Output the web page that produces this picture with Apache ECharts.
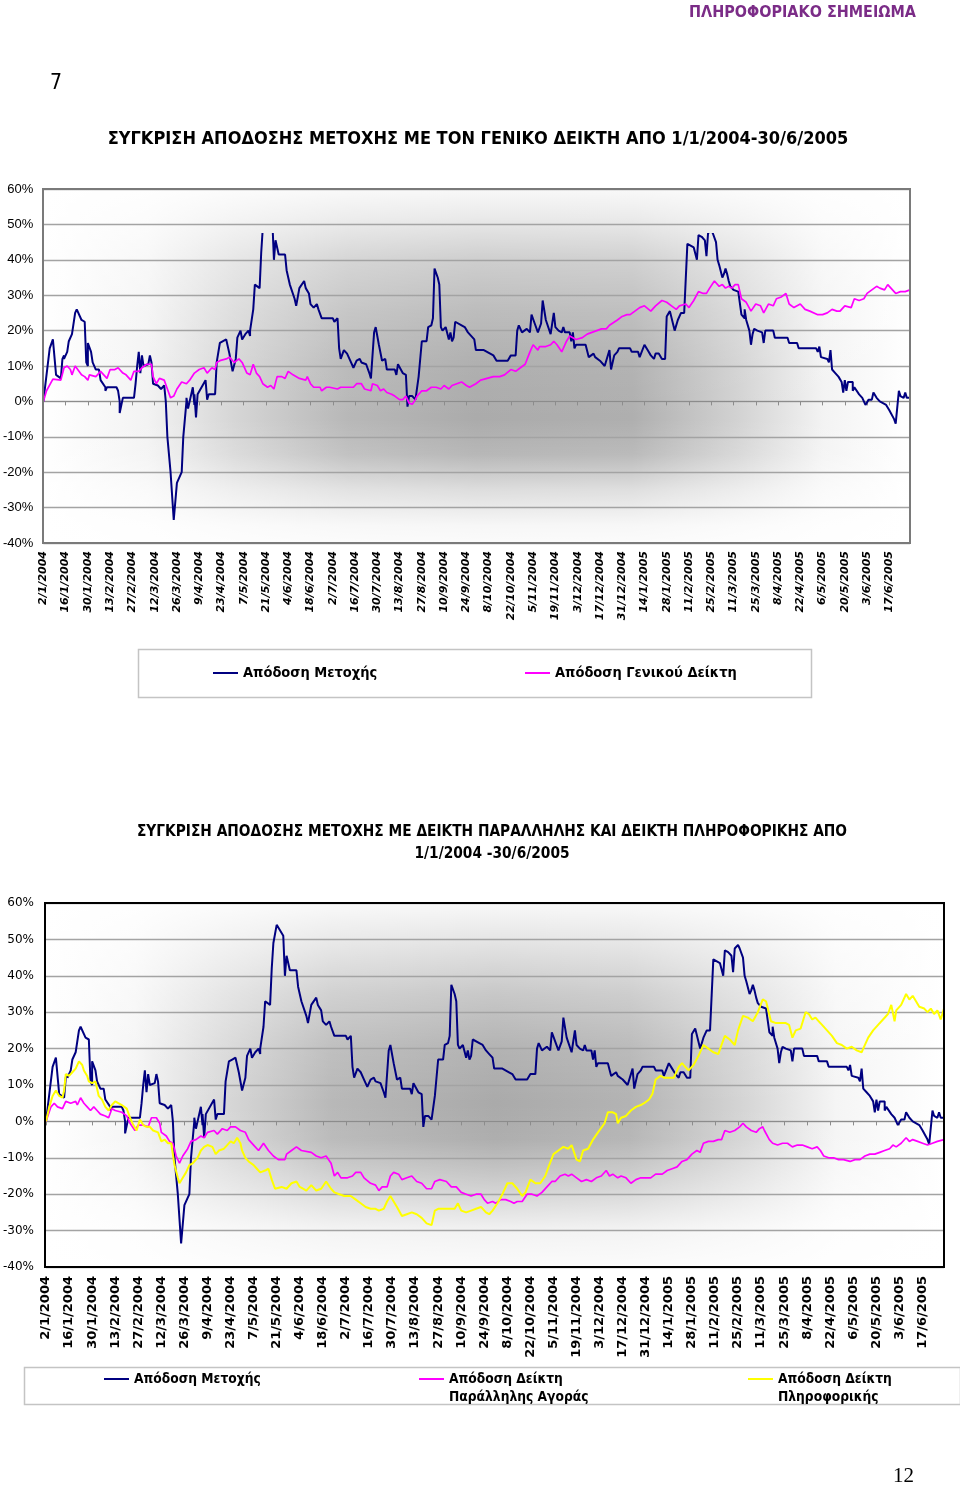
<!DOCTYPE html>
<html>
<head>
<meta charset="utf-8">
<script src="https://cdn.jsdelivr.net/npm/echarts@6/dist/echarts.min.js"></script>
<style>
html,body{margin:0;padding:0;background:#fff;}
#c{width:960px;height:1487px;}
</style>
</head>
<body>
<div id="c"></div>
<script>
// Day offsets are counted in calendar days from 2/1/2004; values are % returns.
const stockReturn = [[0,0],[4,15],[6,17.5],[8,7.5],[9,7],[11,6.5],[12,12],[13,13],[13,12],[15,14],[16,17],[18,19],[20,25],[21,26],[22,25.5],[24,23],[26,22.5],[27,11],[28,10],[28,16.5],[30,14],[31,11],[33,9],[35,9],[36,6],[39,4],[39,3],[40,4],[46,4],[47,3],[48,0],[48,-3.3],[50,1],[57,1],[58,5],[59,10],[60,14],[61,8],[62,13],[63,10],[66,10.5],[67,13],[68,11],[69,5],[72,4.5],[74,3.5],[76,4.5],[77,0],[78,-10],[80,-20],[82,-33.5],[84,-23],[87,-20],[88,-10],[90,0],[90,1],[91,-2],[92,0],[94,4],[95,-1],[95,2],[96,-4.5],[97,2],[102,6],[103,0.5],[104,2],[108,2],[109,11],[111,16.5],[113,17],[115,17.5],[117,13.5],[119,8.5],[121,12],[122,18],[124,20],[125,17.5],[127,19],[129,20],[130,18.5],[130,20],[132,26],[133,33],[136,32],[137,42],[138,49],[140,54],[144,51],[145,40],[146,45.5],[147,45.5],[148,41.5],[152,41.5],[153,37],[155,33],[158,29],[159,27],[161,32],[164,34],[165,32],[167,30.5],[168,27.5],[170,26.5],[172,27.5],[173,26],[175,23.5],[182,23.5],[183,22.5],[185,23.5],[186,15],[187,12],[189,14.5],[191,13.5],[193,11.5],[195,9.5],[197,11.5],[199,12],[200,11],[203,10.5],[205,8],[206,6.5],[208,19.5],[209,21],[211,16],[213,11.5],[214,11],[215,12],[216,9],[221,9],[222,7.5],[223,10.5],[226,8],[228,7.5],[229,-1.5],[230,1.5],[232,1.5],[234,0.5],[236,7],[238,17],[241,17],[242,21],[244,21.5],[245,23.5],[246,37.5],[248,35],[249,33],[250,21],[251,20],[253,21],[255,17.5],[256,19.5],[257,17],[258,18],[259,22.5],[263,21.5],[265,21],[267,19.5],[269,18.5],[271,17.5],[272,14.5],[277,14.5],[281,13.5],[283,13],[285,11.5],[292,11.5],[294,13],[297,13],[298,20],[299,21.5],[301,19.5],[304,20.5],[306,19.5],[307,24.5],[309,22],[311,19.5],[313,22],[314,28.5],[316,23],[319,19],[321,25],[322,21],[324,20],[326,19.5],[327,21],[328,19.5],[331,19.5],[332,17],[333,19.5],[334,15],[335,16],[341,16],[343,12.5],[346,13.5],[347,12.5],[350,11.5],[353,10],[354,10],[356,14.5],[357,9],[359,13],[361,14],[362,15],[369,15],[370,14],[374,14],[375,12.5],[378,16],[380,14.5],[382,13],[384,12],[385,13.5],[387,13.5],[389,12],[391,12],[392,24],[394,25.5],[395,25.5],[397,20],[399,23],[401,25],[403,25],[404,24.5],[405,44.5],[409,43.5],[410,44],[411,40],[412,47],[414,46.5],[416,45.5],[417,41],[418,47.5],[420,48.5],[421,47.5],[423,45],[424,40],[425,38.5],[427,35],[428,36],[429,37.5],[430,36],[431,34],[432,32.5],[434,31.5],[437,31],[438,30.5],[439,24.5],[440,24],[441,23.5],[441,26],[442,23],[444,20],[445,16],[446,19],[447,20.5],[449,20],[452,19.5],[453,16.5],[454,20],[459,20],[460,18],[468,18],[469,16.5],[474,16.5],[475,15],[486,15],[487,14],[488,15.5],[489,12.5],[493,12],[494,11],[495,14.5],[496,9],[498,8],[500,7],[502,5.5],[503,2.5],[504,6],[505,6],[505,3],[506,5.5],[509,5.5],[509,3],[510,4],[513,2],[515,1],[516,0.5],[517,-1],[519,0.5],[521,0.5],[522,2.5],[524,1],[526,0],[530,-1],[532,-2.5],[535,-5],[536,-6.3],[538,3],[539,1.5],[541,1],[542,2.5],[543,1],[545,1]];

const generalIndexReturn = [[0,0],[2,3],[6,6.3],[11,6],[13,9.5],[15,10],[17,9],[18,7.5],[20,10],[21,9.5],[24,7.5],[26,7],[28,6],[29,7.5],[33,7],[34,6.5],[36,8.5],[38,7.5],[40,6.5],[42,9],[45,9],[47,9.5],[50,8],[52,7.5],[55,6],[57,8.5],[60,8.5],[61,8],[62,9.5],[65,10.5],[68,10.5],[69,7],[71,5],[73,6.5],[76,6],[78,3.5],[80,1],[82,1.5],[84,3.5],[87,5.5],[90,5],[92,6],[95,8],[98,9],[101,9.5],[103,8],[106,9.5],[108,9],[109,11],[111,11.5],[115,12],[117,12.5],[120,11],[123,12],[125,11],[128,8],[130,7.5],[132,10.5],[134,8],[136,7],[138,5],[141,4],[143,4.5],[145,3.5],[147,7],[150,7],[152,6.5],[154,8.5],[157,7.5],[161,6.5],[165,6],[166,7],[168,5],[170,4],[174,4],[175,3],[178,4],[180,4],[185,3.5],[187,4],[195,4],[197,5],[200,5],[202,3.5],[206,3],[207,5],[210,4.5],[212,3],[214,3.5],[216,2.5],[219,2],[221,1.5],[224,0.5],[226,0.5],[228,1.5],[230,-0.5],[232,-0.8],[234,0.5],[235,1.5],[238,3],[241,3],[244,4],[247,4],[250,3.5],[252,4.5],[255,3.5],[257,4.5],[260,5],[263,5.5],[266,4.5],[268,4],[272,5],[275,6],[279,6.5],[283,7],[287,7],[290,7.5],[294,9],[297,8.5],[300,9.5],[303,10.5],[306,14],[308,16],[311,14.5],[312,15.5],[316,15.5],[319,16],[321,17],[323,16],[326,14],[329,17],[331,18.5],[335,17.5],[339,18],[342,19],[345,19.5],[348,20],[351,20.5],[354,20.5],[356,21.5],[361,23],[364,24],[367,24.5],[369,24.5],[372,25.5],[375,26.5],[378,27],[382,25.5],[385,27],[389,28.5],[392,28],[395,27],[398,26],[400,27],[404,27.5],[406,26.5],[409,28.5],[412,31],[415,30.5],[417,30.5],[419,32],[422,34],[425,32.5],[427,33],[429,32],[431,32.5],[433,32],[435,33],[437,33],[439,29],[442,28],[445,25.5],[448,27.5],[451,27],[453,25],[456,27.5],[459,27],[461,29],[464,29.5],[467,30.5],[469,27.5],[472,26.5],[476,27.5],[479,26],[482,25.5],[487,24.5],[490,24.5],[493,25],[496,26],[499,25.5],[501,25.5],[504,27],[508,26.5],[510,29],[513,28.5],[516,29],[518,30.5],[521,31.5],[524,32.5],[526,32],[529,31.5],[531,33],[534,31.5],[536,30.5],[539,31],[542,31],[545,31.5]];

const parallelIndexReturn = [[0,0],[3,4],[5,5],[7,4],[10,3.5],[12,5.5],[15,5],[18,5.5],[19,4.5],[21,6.5],[23,5],[25,4],[27,3],[29,4],[31,3],[33,2],[36,1.5],[38,1],[40,3.5],[42,3],[46,2.5],[49,1.5],[51,-0.5],[54,-2.5],[56,-1],[59,-1],[62,-1.5],[64,1],[67,1],[69,-0.5],[70,-3],[73,-4],[75,-5.5],[77,-6],[79,-9.5],[81,-11.5],[83,-9.5],[86,-7.5],[88,-5.5],[91,-5],[94,-4],[96,-4.5],[98,-3],[102,-2.5],[104,-3.5],[107,-2],[110,-2.5],[112,-1.5],[115,-1.5],[118,-2.5],[121,-3],[123,-5],[126,-6.5],[129,-8],[132,-6],[135,-8],[138,-9.5],[141,-10.5],[145,-10.5],[146,-9],[149,-8],[152,-7],[155,-8],[161,-8.5],[164,-9.5],[167,-10],[170,-9.5],[173,-11.5],[175,-15],[177,-14],[179,-15.5],[183,-15.5],[186,-15],[188,-14],[191,-14],[193,-15.5],[197,-17],[200,-17.5],[202,-19],[204,-18],[207,-18],[209,-15],[211,-14],[214,-14.5],[216,-16],[219,-15.5],[222,-15],[225,-16.5],[228,-17],[231,-18.5],[234,-18.5],[236,-16.5],[239,-16],[243,-16.5],[246,-18],[249,-18],[252,-19.5],[255,-20],[258,-20.5],[261,-20],[264,-20],[266,-21.5],[268,-22.5],[271,-22],[273,-22.5],[276,-21.5],[279,-21.5],[282,-22],[284,-22.5],[286,-22],[289,-22],[292,-20],[295,-20],[298,-20.5],[301,-19.5],[304,-18],[307,-16.5],[309,-16.5],[312,-15],[315,-14.5],[317,-15],[319,-14.5],[322,-15.5],[325,-16.5],[328,-16],[331,-16.5],[334,-15.5],[337,-15],[340,-13.5],[342,-15],[344,-14.5],[347,-15.5],[349,-15],[352,-15.5],[355,-17],[358,-16],[361,-15.5],[364,-15.5],[367,-15.5],[370,-14.5],[374,-14.5],[377,-13.5],[380,-13],[383,-12.5],[386,-11],[389,-10.5],[392,-9],[395,-8],[397,-8.5],[399,-6],[402,-5.5],[405,-5.5],[408,-5],[410,-5],[412,-2.5],[415,-3],[418,-2.5],[421,-1.5],[423,-0.5],[425,-1.5],[428,-2.5],[431,-3],[433,-2],[435,-1.5],[436,-2.5],[439,-5],[441,-6],[444,-6.5],[447,-6],[450,-6],[453,-7],[456,-6.5],[459,-6.5],[462,-7],[465,-7.5],[468,-7],[470,-8],[472,-9.5],[475,-10],[478,-10],[481,-10.5],[484,-10.5],[488,-11],[491,-10.5],[494,-10.5],[497,-9.5],[500,-9],[503,-9],[506,-8.5],[509,-8],[512,-7.5],[514,-6.5],[516,-7],[519,-6],[522,-4.5],[524,-5.5],[526,-5],[529,-5.5],[532,-6],[535,-6.5],[536,-7],[538,-6],[541,-5.5],[545,-5]];

const itIndexReturn = [[0,0],[2,4],[4,7],[6,8.5],[8,7],[10,6.5],[11,8.5],[12,13],[14,12.5],[16,13.5],[18,14.5],[19,14],[20,16.5],[21,17],[22,15.5],[23,14],[25,12.5],[26,11],[28,10.5],[30,11],[32,7],[34,6],[36,4],[38,3],[40,4.5],[42,5.5],[46,4.5],[49,3.5],[51,1],[53,-1],[55,-2.5],[57,0.5],[59,-1],[61,-1.5],[63,-1.5],[65,-2.5],[68,-3],[70,-5.5],[72,-5],[74,-6],[76,-6],[78,-12],[80,-15.5],[81,-17],[83,-15.5],[85,-14],[87,-12],[89,-11.5],[92,-10],[94,-8],[96,-7],[98,-6.5],[101,-7],[103,-9],[105,-8],[108,-7.5],[110,-6.5],[112,-5.5],[114,-6],[116,-4.5],[118,-6],[119,-8],[121,-10],[123,-11],[126,-12],[128,-13],[130,-14],[133,-13.5],[135,-13],[137,-16],[139,-18.5],[143,-18],[146,-18.5],[149,-17],[152,-16.5],[154,-18],[156,-18.5],[158,-19],[161,-17.5],[164,-19],[167,-18.5],[170,-16.5],[173,-18.5],[175,-19.5],[178,-20],[181,-20.5],[185,-20.5],[188,-21.5],[191,-22.5],[194,-23.5],[197,-24],[200,-24],[202,-24.5],[205,-24],[207,-22],[209,-20.5],[211,-22],[213,-23.5],[216,-26],[219,-25.5],[222,-25],[225,-25.5],[228,-26.5],[231,-28],[234,-28.5],[236,-24.5],[238,-24],[242,-24],[245,-24],[248,-24],[250,-22.5],[252,-24.5],[255,-25],[258,-24.5],[261,-24],[264,-23.5],[267,-25],[269,-25.5],[271,-24.5],[274,-22.5],[277,-20],[280,-17],[283,-17],[286,-18.5],[289,-20.5],[291,-19.5],[294,-16],[297,-17],[300,-17],[303,-15],[305,-12.5],[308,-9],[311,-8],[314,-7],[317,-7.5],[319,-6.5],[322,-10.5],[324,-11],[326,-8],[329,-7.5],[332,-5],[335,-3],[339,-0.5],[341,2.5],[344,2.5],[346,2],[347,-0.5],[349,1],[352,1.5],[355,3],[358,4],[361,4.5],[363,5],[366,6],[368,7.5],[370,11.5],[373,12.5],[375,12],[378,12],[381,12],[384,15],[386,16],[388,15],[390,14],[393,15.5],[396,18],[399,21],[402,20],[405,19],[408,18.5],[410,21],[412,23.5],[415,22.5],[418,21],[420,25],[423,29],[426,28.5],[429,27.5],[432,30],[435,33.5],[437,33],[440,27.5],[443,27],[446,27],[449,27],[451,26.5],[453,23],[455,25],[458,25.5],[461,30],[463,29.5],[465,28],[467,28.5],[469,27.5],[471,26.5],[474,25],[477,23.5],[480,21.5],[483,21],[486,20],[489,20.5],[492,19.5],[495,19],[496,20],[499,23],[502,25],[505,26.5],[508,28],[511,29.5],[513,32],[515,27.5],[516,30.5],[519,32],[522,35],[524,33.5],[526,34.5],[528,33],[530,31.5],[533,31],[535,30],[537,31],[539,29.5],[541,30.5],[543,28],[545,31]];

// Axis settings (days from 2/1/2004 to 30/6/2005, labels every 14 days)
const dayMax = 545;
const dayStep = 14;
const yTicks = [-40, 60, 10];

const pageHeader = 'ΠΛΗΡΟΦΟΡΙΑΚΟ ΣΗΜΕΙΩΜΑ';
const sectionNo = '7';
const pageNo = '12';
const title1 = 'ΣΥΓΚΡΙΣΗ ΑΠΟΔΟΣΗΣ ΜΕΤΟΧΗΣ ΜΕ ΤΟΝ ΓΕΝΙΚΟ ΔΕΙΚΤΗ ΑΠΟ 1/1/2004-30/6/2005';
const title2 = 'ΣΥΓΚΡΙΣΗ ΑΠΟΔΟΣΗΣ ΜΕΤΟΧΗΣ ΜΕ ΔΕΙΚΤΗ ΠΑΡΑΛΛΗΛΗΣ ΚΑΙ ΔΕΙΚΤΗ ΠΛΗΡΟΦΟΡΙΚΗΣ ΑΠΟ\n1/1/2004 -30/6/2005';
const seriesNames = ['Απόδοση Μετοχής', 'Απόδοση Γενικού Δείκτη', 'Μετοχή (2)', 'Απόδοση Δείκτη Παράλληλης Αγοράς', 'Απόδοση Δείκτη Πληροφορικής'];
const seriesColors = ['#000080', '#ff00ff', '#000080', '#ff00ff', '#ffff00'];
const legendLabels = {
  'Απόδοση Μετοχής': 'Απόδοση Μετοχής',
  'Απόδοση Γενικού Δείκτη': 'Απόδοση Γενικού Δείκτη',
  'Μετοχή (2)': 'Απόδοση Μετοχής',
  'Απόδοση Δείκτη Παράλληλης Αγοράς': '\nΑπόδοση Δείκτη\nΠαράλληλης Αγοράς',
  'Απόδοση Δείκτη Πληροφορικής': '\nΑπόδοση Δείκτη\nΠληροφορικής'
};

const NARROW = "'Liberation Sans Narrow','Arial Narrow','DejaVu Sans Condensed','Liberation Sans',sans-serif";
const DAY0 = Date.UTC(2004, 0, 2);
function dayLabel(v) {
  const d = new Date(DAY0 + v * 86400000);
  return d.getUTCDate() + '/' + (d.getUTCMonth() + 1) + '/' + d.getUTCFullYear();
}

const G1 = {l: 43, t: 189, w: 867, h: 354};
const G2 = {l: 45, t: 903, w: 899, h: 364};

function stops(list) { return list.map(s => ({offset: s[0], color: s[1]})); }
function whiteStops(list) { return list.map(s => ({offset: s[0], color: 'rgba(255,255,255,' + s[1] + ')'})); }
function shading(g, hStops, vStops) {
  return [
    {type: 'rect', z: -11, silent: true, shape: {x: g.l, y: g.t, width: g.w, height: g.h},
      style: {fill: new echarts.graphic.LinearGradient(0, 0, 1, 0, stops(hStops))}},
    {type: 'rect', z: -10, silent: true, shape: {x: g.l, y: g.t, width: g.w, height: g.h},
      style: {fill: new echarts.graphic.LinearGradient(0, 0, 0, 1, whiteStops(vStops))}}
  ];
}
const shade1 = shading(G1,
  [[0, '#ffffff'], [0.12, '#f3f3f3'], [0.22, '#d6d6d6'], [0.35, '#b8b8b8'], [0.5, '#ababab'], [0.68, '#afafaf'], [0.8, '#d2d2d2'], [0.9, '#f3f3f3'], [1, '#ffffff']],
  [[0, 0.92], [0.08, 0.75], [0.2, 0.42], [0.35, 0.2], [0.5, 0.05], [0.65, 0], [0.75, 0.15], [0.85, 0.6], [0.95, 0.9], [1, 0.95]]);
const shade2 = shading(G2,
  [[0, '#ffffff'], [0.1, '#f5f5f5'], [0.2, '#d8d8d8'], [0.32, '#b8b8b8'], [0.5, '#aaaaaa'], [0.65, '#b3b3b3'], [0.78, '#d6d6d6'], [0.88, '#f5f5f5'], [1, '#ffffff']],
  [[0, 0.92], [0.1, 0.7], [0.25, 0.35], [0.4, 0.1], [0.55, 0], [0.65, 0.05], [0.78, 0.45], [0.9, 0.85], [1, 0.95]]);

function xLabelAxis(grid, font) {
  return {
    gridIndex: grid, type: 'value', min: 0, max: dayMax, interval: dayStep, position: 'bottom',
    axisLine: {show: false, onZero: false}, axisTick: {show: false}, splitLine: {show: false},
    axisLabel: Object.assign({rotate: 90, showMaxLabel: false, formatter: dayLabel, color: '#000', fontWeight: 'bold', fontFamily: 'DejaVu Sans'}, font)
  };
}
function xZeroAxis(grid, color) {
  return {
    gridIndex: grid, type: 'value', min: 0, max: dayMax, interval: dayStep, position: 'bottom',
    axisLine: {show: true, onZero: true, lineStyle: {color: color, width: 1}},
    axisTick: {show: true, length: 4, lineStyle: {color: color}},
    axisLabel: {show: false}, splitLine: {show: false}
  };
}
function yAxis(grid, font) {
  return {
    gridIndex: grid, type: 'value', min: yTicks[0], max: yTicks[1], interval: yTicks[2],
    axisLine: {show: false}, axisTick: {show: false},
    splitLine: {lineStyle: {color: '#a3a3a3', width: 1.4}},
    axisLabel: Object.assign({formatter: '{value}%', color: '#000'}, font)
  };
}
function legendItem(idx, left, top, size, lh) {
  const c = seriesColors[idx];
  return {
    data: [seriesNames[idx]], left: left, top: top, padding: 0, icon: 'rect', itemWidth: 25, itemHeight: 2,
    selectedMode: false, formatter: n => legendLabels[n],
    itemStyle: {color: c, borderWidth: 0}, lineStyle: {color: c},
    textStyle: {fontFamily: NARROW, fontWeight: 'bold', fontSize: size, lineHeight: lh, color: '#000'}
  };
}
function lineSeries(idx, xi, yi, data, width, withColor) {
  const s = {name: seriesNames[idx], type: 'line', xAxisIndex: xi, yAxisIndex: yi, data: data, symbol: 'none',
    lineStyle: {width: width}};
  if (withColor) { s.lineStyle.color = seriesColors[idx]; s.itemStyle = {color: seriesColors[idx]}; }
  return s;
}

const chart = echarts.init(document.getElementById('c'), null, {renderer: 'canvas'});
chart.setOption({
  animation: false,
  backgroundColor: '#ffffff',
  color: seriesColors,
  title: [
    {text: pageHeader, right: 44, top: 5, padding: 0, textStyle: {color: '#7b2c87', fontSize: 16, fontWeight: 'bold', fontFamily: NARROW}},
    {text: sectionNo, left: 50, top: 73, padding: 0, textStyle: {color: '#000', fontSize: 21, fontWeight: 'normal', fontFamily: NARROW}},
    {text: title1, left: 478, top: 130, padding: 0, textAlign: 'center', textStyle: {color: '#000', fontSize: 18, fontWeight: 'bold', fontFamily: NARROW}},
    {text: title2, left: 492, top: 821, padding: 0, textAlign: 'center', textStyle: {color: '#000', fontSize: 15.3, lineHeight: 22, fontWeight: 'bold', fontFamily: NARROW}},
    {text: pageNo, left: 893, top: 1466, padding: 0, textStyle: {color: '#000', fontSize: 21, fontWeight: 'normal', fontFamily: "'Liberation Serif','DejaVu Serif',serif"}}
  ],
  grid: [
    {left: G1.l, top: G1.t, width: G1.w, height: G1.h},
    {left: G2.l, top: G2.t, width: G2.w, height: G2.h}
  ],
  xAxis: [
    xLabelAxis(0, {fontStyle: 'italic', fontSize: 11, margin: 8}),
    xZeroAxis(0, '#8c8c8c'),
    xLabelAxis(1, {fontStyle: 'normal', fontSize: 13, margin: 9}),
    xZeroAxis(1, '#8c8c8c')
  ],
  yAxis: [
    yAxis(0, {fontFamily: 'Liberation Sans', fontSize: 13, margin: 10}),
    yAxis(1, {fontFamily: 'DejaVu Sans', fontSize: 12, margin: 12})
  ],
  visualMap: [{
    type: 'piecewise', show: false, seriesIndex: 0, dimension: 1,
    pieces: [{gte: -40, lte: 47.5, color: '#000080'}], outOfRange: {color: 'rgba(0,0,128,0)'}
  }],
  legend: [
    legendItem(0, 213, 664, 14.5, 18),
    legendItem(1, 525, 664, 14.5, 18),
    legendItem(2, 104, 1370, 13.7, 18),
    legendItem(3, 419, 1352, 13.7, 18),
    legendItem(4, 748, 1352, 13.7, 18)
  ],
  graphic: {elements: shade1.concat(shade2, [
    {type: 'rect', z: 10, silent: true, shape: {x: G1.l, y: G1.t, width: G1.w, height: G1.h}, style: {fill: 'none', stroke: '#7a7a7a', lineWidth: 2}},
    {type: 'rect', z: 10, silent: true, shape: {x: G2.l, y: G2.t, width: G2.w, height: G2.h}, style: {fill: 'none', stroke: '#000000', lineWidth: 2}},
    {type: 'rect', z: 0, silent: true, shape: {x: 138.5, y: 649.5, width: 673, height: 48}, style: {fill: '#ffffff', stroke: '#c4c4c4', lineWidth: 1.5}},
    {type: 'rect', z: 0, silent: true, shape: {x: 24.5, y: 1367.5, width: 936, height: 37}, style: {fill: '#ffffff', stroke: '#c4c4c4', lineWidth: 1.5}}
  ])},
  series: [
    lineSeries(0, 0, 0, stockReturn, 2, false),
    lineSeries(1, 0, 0, generalIndexReturn, 1.7, true),
    lineSeries(2, 2, 1, stockReturn, 2, true),
    lineSeries(3, 2, 1, parallelIndexReturn, 1.7, true),
    lineSeries(4, 2, 1, itIndexReturn, 2, true)
  ]
});
</script>
</body>
</html>
